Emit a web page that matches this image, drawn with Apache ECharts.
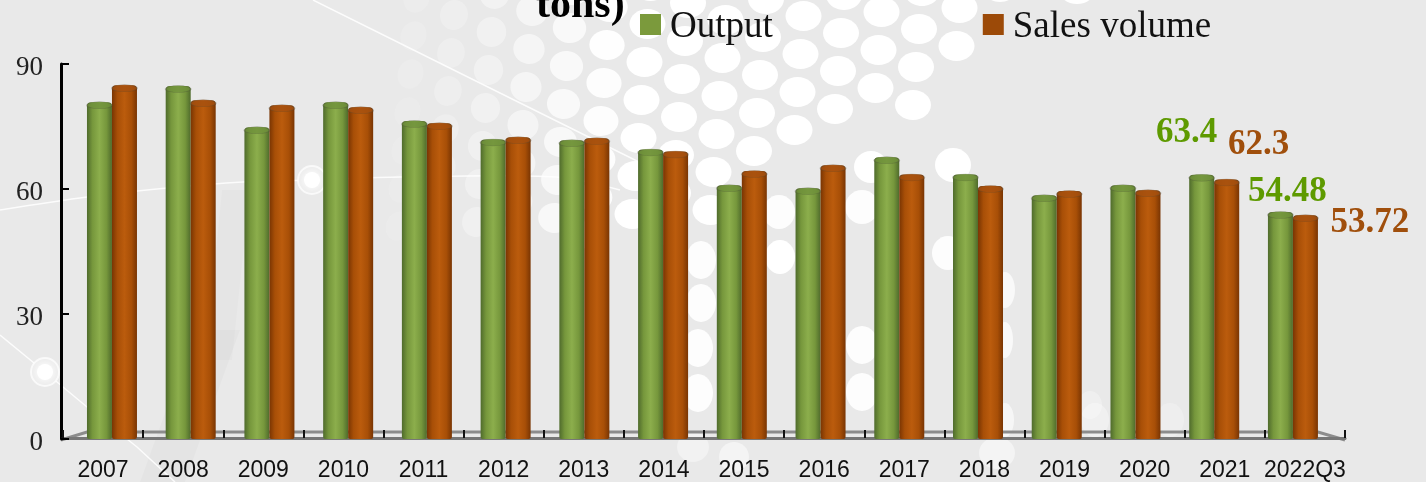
<!DOCTYPE html>
<html>
<head>
<meta charset="utf-8">
<title>Output and sales volume</title>
<script src="https://cdn.jsdelivr.net/npm/echarts@6/dist/echarts.min.js"></script>
<style>
html, body { margin: 0; padding: 0; background: #e9e9e9; }
#main { width: 1426px; height: 482px; }
</style>
</head>
<body>
<div id="main"></div>
<script>
var categories = ['2007', '2008', '2009', '2010', '2011', '2012', '2013', '2014', '2015', '2016', '2017', '2018', '2019', '2020', '2021', '2022Q3'];
var output = [80.8, 84.7, 74.8, 80.8, 76.3, 71.9, 71.7, 69.5, 60.9, 60.2, 67.6, 63.5, 58.5, 60.9, 63.4, 54.48];
var sales = [84.9, 81.3, 80.1, 79.6, 75.8, 72.4, 72.2, 69, 64.3, 65.7, 63.5, 60.7, 59.5, 59.7, 62.3, 53.72];
var yTicks = [0, 30, 60, 90];

var chart = echarts.init(document.getElementById('main'));

// background decoration only, not data
var lowerDots = [
  [871, 167, 17, 16, 1], [953, 165, 18, 17, 1], [862, 207, 17, 17, .9], [779, 212, 16, 17, .9],
  [701, 260, 15, 19, .9], [701, 303, 15, 19, .9], [698, 348, 15, 19, .9], [698, 393, 15, 19, .9],
  [780, 257, 15, 17, 1], [862, 345, 16, 19, .9], [862, 392, 16, 19, .9], [948, 253, 16, 17, .9],
  [1005, 290, 10, 18, .7], [1005, 340, 8, 18, .7], [1005, 420, 9, 17, .6], [1095, 420, 14, 17, .35],
  [1170, 420, 14, 17, .25], [693, 447, 16, 15, .4], [734, 457, 15, 15, .5], [997, 453, 18, 16, .5],
  [1077, -10, 18, 14, 1], [1090, 405, 12, 14, .3]
];

function backgroundGraphics() {
  var list = [{ type: 'rect', shape: { x: 0, y: 0, width: 1426, height: 482 }, style: { fill: '#e9e9e9' }, z: -20 }];
  // faint streaks lower left
  list.push({ type: 'polygon', shape: { points: [[195, 330], [240, 330], [185, 482], [140, 482]] }, style: { fill: 'rgba(0,0,0,0.018)' }, z: -19 });
  list.push({ type: 'polygon', shape: { points: [[222, 190], [250, 190], [232, 360], [205, 360]] }, style: { fill: 'rgba(0,0,0,0.015)' }, z: -19 });
  for (var i = -13; i <= 3; i++) {
    for (var j = 0; j <= 14; j++) {
      var x = 913 + 40.5 * i + 3 * j;
      var y = 105 - 21 * i - 38 * j;
      if (y < -20 || x < 380) continue;
      if (i >= -4 && i < 0 && j < 1) continue;
      if (i > 0 && j < i) continue;
      if (i < -4 && y > 240) continue;
      var f = Math.min(1, Math.max(0, (x - 380) / 240));
      list.push({
        type: 'ellipse',
        x: x, y: y,
        rotation: -0.45 * (1 - f),
        shape: { cx: 0, cy: 0, rx: 12 + 6 * f, ry: 15 },
        style: { fill: 'rgba(255,255,255,' + (0.1 + 0.9 * Math.pow(f, 1.5)).toFixed(2) + ')' },
        z: -18
      });
    }
  }
  lowerDots.forEach(function (d) {
    list.push({ type: 'ellipse', shape: { cx: d[0], cy: d[1], rx: d[2], ry: d[3] }, style: { fill: 'rgba(255,255,255,' + d[4] + ')' }, z: -18 });
  });
  // thin white lines and rings
  var lineStyle = { stroke: 'rgba(255,255,255,0.85)', lineWidth: 1.5, fill: null };
  list.push({ type: 'polyline', shape: { points: [[313, 0], [500, 93], [641, 163]] }, style: lineStyle, z: -17 });
  list.push({ type: 'polyline', shape: { smooth: 0.3, points: [[0, 210], [87, 197], [167, 188], [243, 182], [312, 180], [400, 177], [556, 177], [620, 190]] }, style: lineStyle, z: -17 });
  list.push({ type: 'polyline', shape: { points: [[0, 335], [45, 372], [87, 407], [137, 447], [175, 482]] }, style: lineStyle, z: -17 });
  [[312, 180], [45, 372]].forEach(function (p) {
    list.push({ type: 'circle', shape: { cx: p[0], cy: p[1], r: 14 }, style: { fill: 'rgba(238,238,238,1)', stroke: 'rgba(255,255,255,0.7)', lineWidth: 2 }, z: -16 });
    list.push({ type: 'circle', shape: { cx: p[0], cy: p[1], r: 8 }, style: { fill: '#fff', shadowBlur: 6, shadowColor: '#fff' }, z: -16 });
  });
  // back edge of the chart floor
  list.push({ type: 'polyline', shape: { points: [[61, 440], [87, 432], [1318, 432], [1345, 440]] }, style: { stroke: '#8c8c8c', lineWidth: 3, fill: null }, z: -1 });
  return list;
}

function cylinder(edge, side, mid) {
  return {
    type: 'linear', x: 0, y: 0, x2: 1, y2: 0,
    colorStops: [
      { offset: 0, color: edge },
      { offset: 0.22, color: side },
      { offset: 0.5, color: mid },
      { offset: 0.78, color: side },
      { offset: 1, color: edge }
    ]
  };
}

var barWidth = 25;
var lastTwo = categories.length - 2;
var outputOffsets = [[-15, -19], [7, 2]];
var salesOffsets = [[32, -12], [64.5, 30]];
var ellipsePath = 'path://M0 1A1 1 0 1 1 2 1A1 1 0 1 1 0 1Z';

function barData(values, offsets, color) {
  return values.map(function (v, i) {
    if (i < lastTwo) return v;
    return {
      value: v,
      label: {
        show: true,
        position: 'top',
        offset: offsets[i - lastTwo],
        formatter: String(v),
        color: color,
        fontFamily: 'Liberation Serif',
        fontWeight: 'bold',
        fontSize: 35
      }
    };
  });
}

function capSeries(name, values, color, dx) {
  return {
    name: name,
    type: 'scatter',
    xAxisIndex: 0,
    yAxisIndex: 0,
    data: values,
    symbol: ellipsePath,
    symbolKeepAspect: false,
    symbolSize: [barWidth, 7],
    symbolOffset: [dx, 3],
    itemStyle: { color: color, borderColor: 'rgba(70,70,60,0.4)', borderWidth: 1 },
    silent: true,
    z: 3
  };
}

chart.setOption({
  animation: false,
  graphic: backgroundGraphics(),
  title: {
    text: 'tons)',
    left: 536,
    top: -15,
    padding: 0,
    textStyle: { fontFamily: 'Liberation Serif', fontWeight: 'bold', fontSize: 42, color: '#000' }
  },
  legend: {
    left: 640,
    top: 9,
    padding: 0,
    itemWidth: 21,
    itemHeight: 21,
    itemGap: 210,
    icon: 'rect',
    formatter: '{t|{name}}',
    textStyle: {
      padding: [0, 0, 0, 4],
      rich: { t: { fontFamily: 'Liberation Serif', fontSize: 37, color: '#111', padding: [6, 0, 0, 0] } }
    },
    data: [
      { name: 'Output', itemStyle: { color: '#7b9a3c' } },
      { name: 'Sales volume', itemStyle: { color: '#9c4a08' } }
    ]
  },
  grid: [
    { left: 72.6, top: 64, width: 1259.7, height: 375 },
    { left: 63, top: 64, width: 1282, height: 375 }
  ],
  xAxis: [
    { type: 'category', gridIndex: 0, data: categories, show: false },
    {
      type: 'category',
      gridIndex: 1,
      data: categories,
      axisLine: { show: true, lineStyle: { color: '#777', width: 3 } },
      axisTick: { show: true, alignWithLabel: false, inside: true, length: 8, lineStyle: { color: '#111', width: 2 } },
      axisLabel: { interval: 0, margin: 21, fontFamily: 'Liberation Sans', fontSize: 23, color: '#111' }
    }
  ],
  yAxis: [
    {
      type: 'value',
      gridIndex: 0,
      min: yTicks[0],
      max: yTicks[yTicks.length - 1],
      interval: 30,
      offset: 11.6,
      axisLine: { show: true, lineStyle: { color: '#000', width: 3 } },
      axisTick: { show: true, inside: true, length: 8, lineStyle: { color: '#000', width: 2 } },
      axisLabel: {
        margin: 18,
        formatter: '{v|{value}}',
        rich: { v: { fontFamily: 'Liberation Serif', fontSize: 27, color: '#222', padding: [7, 0, 0, 0] } }
      },
      splitLine: { show: false }
    },
    { type: 'value', gridIndex: 1, min: 0, max: 90, show: false }
  ],
  series: [
    {
      name: 'Output',
      type: 'bar',
      xAxisIndex: 0,
      yAxisIndex: 0,
      barWidth: barWidth,
      barGap: 0,
      data: barData(output, outputOffsets, '#5e9a00'),
      itemStyle: { color: cylinder('#4f6b2c', '#76973c', '#8cae4c'), borderRadius: [4, 4, 2, 2] }
    },
    {
      name: 'Sales volume',
      type: 'bar',
      xAxisIndex: 0,
      yAxisIndex: 0,
      barWidth: barWidth,
      barGap: 0,
      data: barData(sales, salesOffsets, '#a04f0c'),
      itemStyle: { color: cylinder('#793503', '#a84f07', '#bb5c0d'), borderRadius: [4, 4, 2, 2] }
    },
    capSeries('outputCap', output, '#6f913b', -barWidth / 2),
    capSeries('salesCap', sales, '#a5500f', barWidth / 2)
  ]
});
</script>
</body>
</html>
